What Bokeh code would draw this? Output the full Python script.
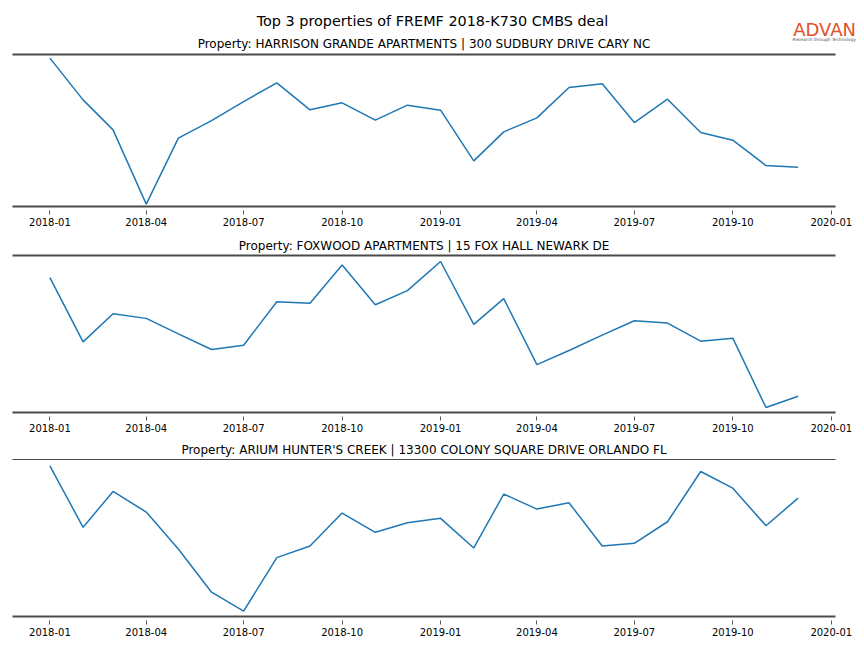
from datetime import datetime

from bokeh.plotting import figure
from bokeh.layouts import column
from bokeh.models import (Range1d, FixedTicker, DatetimeTickFormatter, LinearAxis,
                          Label, Title, ColumnDataSource)
from bokeh.embed import file_html
from bokeh.resources import INLINE

# ---------------- data ----------------
main_title = "Top 3 properties of FREMF 2018-K730 CMBS deal"
logo_text = "ADVAN"
logo_tagline = "Research through Technology"

months = ["2018-01", "2018-02", "2018-03", "2018-04", "2018-05", "2018-06",
          "2018-07", "2018-08", "2018-09", "2018-10", "2018-11", "2018-12",
          "2019-01", "2019-02", "2019-03", "2019-04", "2019-05", "2019-06",
          "2019-07", "2019-08", "2019-09", "2019-10", "2019-11", "2019-12"]

tick_labels = ["2018-01", "2018-04", "2018-07", "2018-10", "2019-01",
               "2019-04", "2019-07", "2019-10", "2020-01"]

property_titles = [
    "Property: HARRISON GRANDE APARTMENTS | 300 SUDBURY DRIVE CARY NC",
    "Property: FOXWOOD APARTMENTS | 15 FOX HALL NEWARK DE",
    "Property: ARIUM HUNTER'S CREEK | 13300 COLONY SQUARE DRIVE ORLANDO FL",
]

harrison_values = [2017, 1600, 1300, 557, 1217, 1393, 1583, 1770, 1500, 1570, 1397, 1547,
                   1497, 990, 1280, 1420, 1723, 1760, 1373, 1607, 1273, 1197, 943, 927]
foxwood_values = [1813, 1173, 1453, 1407, 1253, 1097, 1140, 1573, 1557, 1937, 1543, 1683,
                  1973, 1347, 1603, 947, 1087, 1240, 1383, 1360, 1180, 1210, 520, 633]
arium_values = [1933, 1317, 1677, 1470, 1100, 667, 477, 1013, 1130, 1460, 1267, 1363,
                1407, 1110, 1650, 1500, 1563, 1130, 1157, 1373, 1877, 1710, 1333, 1610]

series = [harrison_values, foxwood_values, arium_values]

# ---------------- style ----------------
FONT = "DejaVu Sans"
LINE_COLOR = "#1f77b4"
SPINE_COLOR = "#4a4a4a"
TOTAL_W = 856
FRAME_W = 823
BORDER_L = 12
frame_heights = [152, 157, 157]
pads = [(0.016, 0.025), (0.034, 0.041), (0.037, 0.044)]  # (bottom, top)
top_spine_widths = [2, 2, 1]
title_standoffs = [8, 6, 5]
min_border_bottoms = [27, 26, 22]
HEADER_H = 42
HEADER_OVERLAP = 12


def to_dt(s):
    return datetime.strptime(s + "-01", "%Y-%m-%d")


dates = [to_dt(m) for m in months]
span = dates[-1] - dates[0]
x_start = dates[0] - span * 0.05
x_end = dates[-1] + span * 0.05
tick_ms = [to_dt(t).timestamp() * 1000.0 for t in tick_labels]

# ---------------- header (title + logo) ----------------
header = figure(width=TOTAL_W, height=HEADER_H, x_range=Range1d(0, TOTAL_W),
                y_range=Range1d(0, HEADER_H), x_axis_location=None, y_axis_location=None,
                min_border=0, outline_line_color=None, toolbar_location=None,
                output_backend="svg")
header.frame_align = False
header.grid.visible = False
header.add_layout(Label(x=432, y=HEADER_H - 20, text=main_title, text_align="center",
                        text_baseline="middle", text_font=FONT,
                        text_font_size="14.4px", text_color="black"))
header.add_layout(Label(x=855.5, y=HEADER_H - 28.5, text=logo_text, text_align="right",
                        text_baseline="middle", text_font=FONT,
                        text_font_size="18px", text_color="#e0502a"))
header.add_layout(Label(x=855.5, y=HEADER_H - 38.5, text=logo_tagline, text_align="right",
                        text_baseline="middle", text_font=FONT,
                        text_font_size="4.3px", text_color="#555555"))

plots = [header]
for i, vals in enumerate(series):
    lo, hi = min(vals), max(vals)
    rng = hi - lo
    y0 = lo - pads[i][0] * rng
    y1 = hi + pads[i][1] * rng
    p = figure(frame_width=FRAME_W, frame_height=frame_heights[i],
               x_axis_type="datetime", y_axis_location=None,
               x_range=Range1d(x_start, x_end), y_range=Range1d(y0, y1),
               toolbar_location=None, output_backend="svg",
               min_border_left=BORDER_L, min_border_right=TOTAL_W - BORDER_L - FRAME_W,
               min_border_top=0, min_border_bottom=min_border_bottoms[i],
               outline_line_color=None)
    p.grid.visible = False
    src = ColumnDataSource(dict(x=dates, y=vals))
    p.line("x", "y", source=src, line_color=LINE_COLOR, line_width=1.5)

    ax = p.xaxis[0]
    ax.ticker = FixedTicker(ticks=tick_ms)
    fmt = "%Y-%m"
    ax.formatter = DatetimeTickFormatter(microseconds=fmt, milliseconds=fmt, seconds=fmt,
                                         minsec=fmt, minutes=fmt, hourmin=fmt, hours=fmt,
                                         days=fmt, months=fmt, years=fmt)
    ax.axis_line_color = SPINE_COLOR
    ax.axis_line_width = 2
    ax.major_tick_in = -4
    ax.major_tick_out = 8
    ax.major_tick_line_color = "#555555"
    ax.major_tick_line_width = 1
    ax.minor_tick_in = 0
    ax.minor_tick_out = 0
    ax.major_label_text_font = FONT
    ax.major_label_text_font_size = "10px"
    ax.major_label_text_color = "black"
    ax.major_label_standoff = 3

    top = LinearAxis(ticker=FixedTicker(ticks=[]), axis_line_color=SPINE_COLOR,
                     axis_line_width=top_spine_widths[i], major_tick_in=0, major_tick_out=0,
                     minor_tick_in=0, minor_tick_out=0, major_label_text_font_size="0px",
                     major_label_standoff=0)
    p.add_layout(top, "above")

    p.title = Title(text=property_titles[i], align="center", text_font=FONT,
                    text_font_size="12px", text_font_style="normal",
                    text_color="black", standoff=title_standoffs[i])
    if i == 0:
        p.background_fill_color = None
        p.border_fill_color = None
        p.margin = (-HEADER_OVERLAP, 0, 0, 0)
    plots.append(p)

layout = column(*plots, spacing=0)
open("out.html", "w").write(file_html(layout, INLINE))
